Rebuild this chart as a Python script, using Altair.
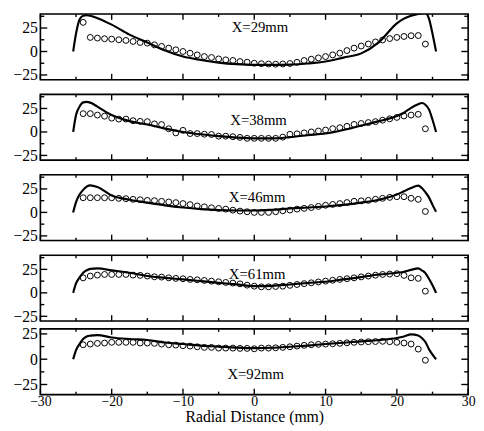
import altair as alt
import pandas as pd

# ---------------- data ----------------
X_PTS = [-24, -23, -22, -21, -20, -19, -18, -17, -16, -15, -14, -13, -12, -11, -10, -9, -8, -7, -6, -5, -4, -3, -2, -1,
         0, 1, 2, 3, 4, 5, 6, 7, 8, 9, 10, 11, 12, 13, 14, 15, 16, 17, 18, 19, 20, 21, 22, 23, 24]

PTS_29 = [31, 15, 14.3, 13.6, 13.2, 12.5, 11.8, 10.7, 9.6, 8.9, 7.1, 5.4, 3.6, 1.8, 0, -1.8, -3.6, -5.4, -6.4, -7.9, -8.9, -9.6, -10.7, -11.4,
          -12.5, -13, -13.3, -13.5, -13.3, -12.8, -11.5, -9.6, -8.2, -6.8, -5.4, -3.6, -1.8, 1, 3.6, 5.8, 8, 10.2, 12.2, 13.8, 15, 16, 16.8, 17, 7.9]
PTS_38 = [19.5, 19.5, 18, 16.8, 14.7, 13.7, 13.7, 12, 11.3, 11, 8.6, 7.9, 3.4, -1, 1.7, -1.7, -1.7, -2.4, -2.7, -4.5, -4.5, -5.1, -5.8, -6.8,
          -6.8, -6.8, -6.8, -6.8, -5.5, -2.5, -2, -1, 0, 1, 2, 3.5, 4.5, 6, 8, 9, 10, 11, 12.5, 14, 15.5, 17, 18, 18.8, 3.4]
PTS_46 = [15.6, 15.6, 15.6, 15.6, 15.6, 15, 14.6, 13.9, 13.5, 12.8, 12.5, 11.8, 11.1, 10.4, 9.4, 8.3, 6.9, 5.9, 4.9, 4.2, 3.5, 2.4, 1.4, 0.7,
          0, 0, 0, 0.7, 1.7, 2.5, 3.5, 4.3, 5.2, 6.4, 7.6, 8.5, 9.4, 10.5, 11.8, 12.3, 12.8, 14, 15, 16, 16.7, 16.7, 15, 13.9, 1]
PTS_61 = [16, 17.9, 18.9, 19.6, 19.6, 19.6, 19.6, 18.9, 18.6, 17.9, 17.1, 16.8, 16, 15.4, 15, 14.3, 13.9, 13.2, 12.5, 11.8, 11.1, 10.4, 9.6, 8.2,
          7.1, 6.4, 6.4, 6.8, 7.1, 8, 8.9, 9.8, 10.7, 11.6, 12.5, 13.4, 14.3, 15.1, 16, 17, 17.9, 18.8, 19.6, 20, 20.4, 18.6, 16, 15.4, 1.8]
PTS_92 = [14.3, 15, 15.7, 16, 16.7, 16.7, 16.7, 16.7, 16, 16, 15.7, 15, 14.3, 14, 13.3, 13, 12.3, 11.7, 11.7, 11, 11, 11, 10.7, 10.7,
          10.3, 11, 11, 11.3, 11.7, 12.3, 13, 13.7, 14.3, 14.7, 15, 15.3, 15.7, 16.2, 16.7, 17, 17.3, 17.5, 17.7, 17.3, 16.7, 16, 15, 10, -1]

LINE_X = [-25.4, -25, -24.5, -24, -23.5, -23, -22, -20, -17.5, -15, -12.5, -10, -7.5, -5, -2.5,
          0, 2.5, 5, 7.5, 10, 12.5, 15, 17.5, 20, 21, 22, 23, 23.5, 24, 24.5, 25, 25.5]

LINE_29 = [0, 19, 34, 38, 38.6, 38, 35.5, 28.6, 18, 9.6, 1, -5.4, -9, -11.8, -13.5,
           -14.3, -14.3, -14, -12.8, -10.7, -6.5, -2, 10, 30, 35, 38, 40, 40.8, 41, 35, 19, 0]
LINE_38 = [0, 18, 27, 31.5, 32, 31.2, 27, 18, 11.5, 7.9, 3.5, 0, -2.5, -4.5, -6,
           -6.8, -6.8, -5.5, -3.5, -1.7, 2, 6.8, 11.5, 17, 20.5, 25.7, 29.5, 30.8, 29, 24, 13, 0]
LINE_46 = [0, 11, 19, 24, 27.5, 28.8, 27, 18, 13.5, 10.4, 7.5, 5.2, 3.5, 2.4, 2,
           2, 2.8, 4.2, 5.2, 6.3, 8, 10.4, 13.5, 19, 22.5, 26, 28.5, 26, 21.5, 16, 8, 0.7]
LINE_61 = [0, 10, 16.5, 21.5, 24, 25.5, 26, 24, 21.4, 17.9, 16, 14.3, 12.5, 10.7, 9,
           7.1, 7.5, 8.9, 10.5, 11.8, 14.3, 16.8, 19.5, 21.4, 22.5, 24.5, 26, 24, 21, 15, 8, 0]
LINE_92 = [0, 9, 15, 20, 22.5, 23.3, 23.8, 21.5, 20, 19, 16.5, 15, 13.5, 12.5, 11.5,
           11, 11.3, 12.3, 13.5, 15, 16.3, 17.7, 19, 21, 22.5, 24.5, 23.5, 21, 17, 10, 4.5, 0]

LABELS = ["X=29mm", "X=38mm", "X=46mm", "X=61mm", "X=92mm"]
LABEL_X = [0.8, 0.6, 0.4, 0.4, 0.2]
LABEL_Y = [26, 13, 16, 20, -15]

X_MAJOR = [-30, -20, -10, 0, 10, 20, 30]
X_MINOR = [-25, -15, -5, 5, 15, 25]
Y_MAJOR = [-25, 0, 25]
Y_MINOR = [-37.5, -12.5, 12.5, 37.5]

PANEL_PTS = [PTS_29, PTS_38, PTS_46, PTS_61, PTS_92]
PANEL_LINE = [LINE_29, LINE_38, LINE_46, LINE_61, LINE_92]
Y_DOMAINS = [[-30, 40], [-30, 40], [-30, 40], [-30, 40], [-35, 30]]

# ---------------- styling ----------------
FONT = "Liberation Serif"
W = 436
H = 67
MAJ = 7
MIN = 4


def panel(i, last):
    xs = alt.Scale(domain=[-30, 30], nice=False, zero=False)
    ys = alt.Scale(domain=Y_DOMAINS[i], nice=False, zero=False)
    if last:
        xaxis = alt.Axis(values=X_MAJOR, ticks=False, tickSize=0, domain=False, grid=False,
                         labelFlush=False, labelPadding=0, labelFont=FONT, labelFontSize=14,
                         labelColor="black", title="Radial Distance (mm)", titleFont=FONT,
                         titleFontSize=16, titleFontWeight="normal", titleColor="black",
                         titlePadding=0)
    else:
        xaxis = None
    yaxis = alt.Axis(values=Y_MAJOR, ticks=False, tickSize=0, domain=False, grid=False,
                     labelPadding=3, labelFont=FONT, labelFontSize=16, labelColor="black",
                     title=None)

    def X(f):
        return alt.X(f, type="quantitative", scale=xs, axis=xaxis)

    def Y(f):
        return alt.Y(f, type="quantitative", scale=ys, axis=yaxis)

    lo, hi = Y_DOMAINS[i]
    pts = pd.DataFrame({"x": X_PTS, "y": PANEL_PTS[i]})
    line = pd.DataFrame({"x": LINE_X, "y": PANEL_LINE[i]})
    lab = pd.DataFrame({"x": [LABEL_X[i]], "y": [LABEL_Y[i]], "t": [LABELS[i]]})
    xmaj = pd.DataFrame({"v": X_MAJOR})
    xmin = pd.DataFrame({"v": X_MINOR})
    ymaj = pd.DataFrame({"v": Y_MAJOR})
    ymin = pd.DataFrame({"v": [v for v in Y_MINOR if lo < v < hi]})

    frame = alt.Chart(lab).mark_rect(fill=None, stroke="black", strokeWidth=1.6).encode(
        x=alt.value(0), x2=alt.value(W), y=alt.value(0), y2=alt.value(H))
    circles = alt.Chart(pts).mark_point(shape="circle", filled=False, color="black",
                                        size=36, strokeWidth=1, opacity=1).encode(x=X("x"), y=Y("y"))
    curve = alt.Chart(line).mark_line(color="black", strokeWidth=2.2, interpolate="monotone",
                                      clip=True).encode(x=X("x"), y=Y("y"))
    text = alt.Chart(lab).mark_text(font=FONT, fontSize=15, color="black", align="center",
                                    baseline="middle").encode(x=X("x"), y=Y("y"), text="t:N")

    rs = dict(color="black", strokeWidth=1.4)
    ticks = [
        alt.Chart(xmaj).mark_rule(**rs).encode(x=X("v"), y=alt.value(0), y2=alt.value(MAJ - 1)),
        alt.Chart(xmaj).mark_rule(**rs).encode(x=X("v"), y=alt.value(H), y2=alt.value(H - MAJ + 1)),
        alt.Chart(xmin).mark_rule(**rs).encode(x=X("v"), y=alt.value(0), y2=alt.value(MIN - 1)),
        alt.Chart(xmin).mark_rule(**rs).encode(x=X("v"), y=alt.value(H), y2=alt.value(H - MIN + 1)),
        alt.Chart(ymaj).mark_rule(**rs).encode(y=Y("v"), x=alt.value(0), x2=alt.value(MAJ)),
        alt.Chart(ymaj).mark_rule(**rs).encode(y=Y("v"), x=alt.value(W), x2=alt.value(W - MAJ)),
        alt.Chart(ymin).mark_rule(**rs).encode(y=Y("v"), x=alt.value(0), x2=alt.value(MIN)),
        alt.Chart(ymin).mark_rule(**rs).encode(y=Y("v"), x=alt.value(W), x2=alt.value(W - MIN)),
    ]
    return alt.layer(circles, curve, text, *ticks, frame).properties(width=W, height=H)


p = [panel(i, i == 4) for i in range(5)]

top = alt.vconcat(p[0], p[1], p[2], spacing=15, bounds="flush")
bottom = alt.vconcat(p[3], p[4], spacing=8, bounds="flush")
chart = alt.vconcat(top, bottom, spacing=9).properties(
    padding={"left": 4, "top": 0, "right": 0, "bottom": 0}
).configure_view(stroke=None).configure(background="white")

chart.save("out.html", embed_options={"renderer": "svg", "actions": False})
